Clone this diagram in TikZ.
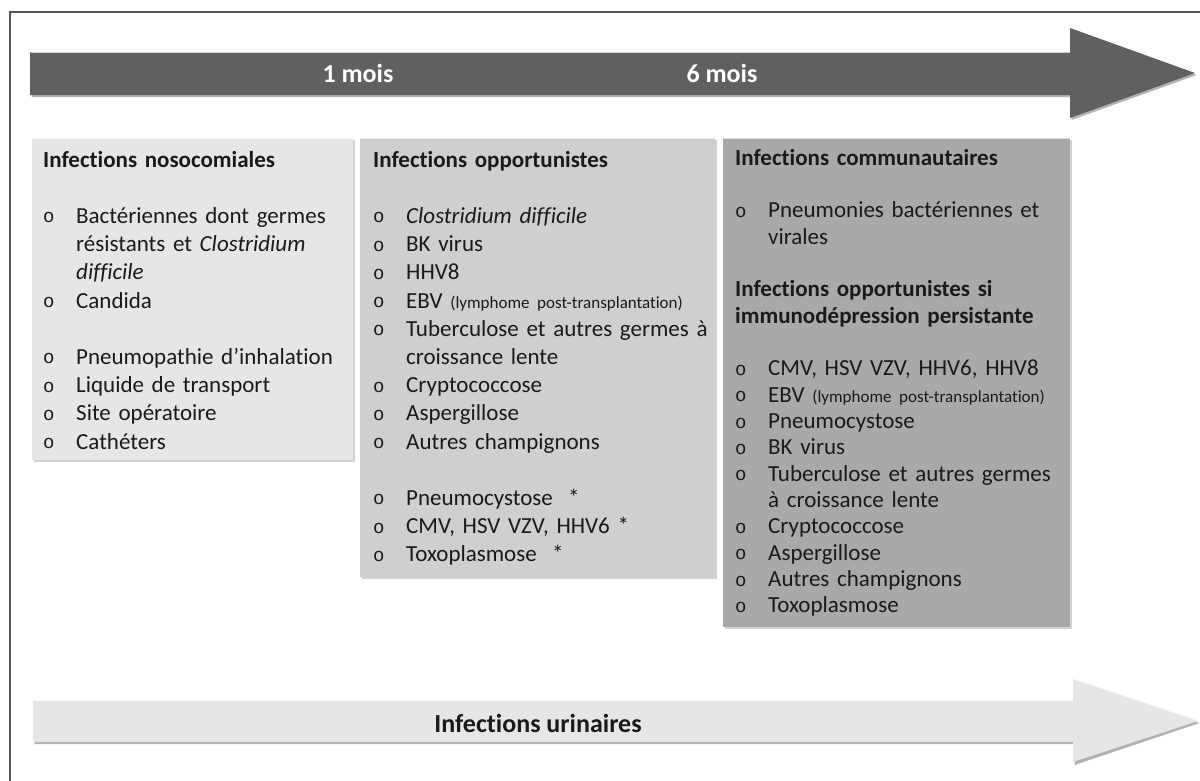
\documentclass[tikz,border=0pt]{standalone}
\usepackage{fontspec}
\setmainfont{Carlito}[RawFeature={-liga;-clig;-calt;-dlig}]
\newfontfamily\bulfont{Liberation Mono}
\usetikzlibrary{shadows}
\definecolor{framec}{HTML}{555555}
\definecolor{arrowdark}{HTML}{606060}
\definecolor{arrowlight}{HTML}{E6E6E6}
\definecolor{boxA}{HTML}{E6E6E6}
\definecolor{boxB}{HTML}{CFCFCF}
\definecolor{boxC}{HTML}{A9A9A9}
\definecolor{txt}{HTML}{1A1A1A}
\newcommand{\bul}{{\bulfont\fontsize{19}{19}\selectfont\raisebox{0.5pt}{o}}}
\newcommand{\itm}[1]{\par\noindent\makebox[33pt][l]{\hspace{0pt}\bul}#1}
\newcommand{\cnt}[1]{\par\noindent\hspace*{33pt}#1}
\newcommand{\hdfirst}[1]{\noindent\textbf{#1}}
\newcommand{\hd}[1]{\par\noindent\textbf{#1}}
\newcommand{\gapline}{\par\noindent\mbox{}}
\newcommand{\sml}[1]{{\fontsize{17}{17}\selectfont #1}}
\tikzset{
  panel/.style={draw=none, anchor=north west, inner sep=0pt,
    drop shadow={shadow xshift=1.5pt, shadow yshift=-2pt, opacity=0.35}},
  listtext/.style={anchor=base west, inner sep=0pt, text width=400pt,
    text=txt, font=\fontsize{23}{28.2}\selectfont},
  listtextC/.style={listtext, font=\fontsize{23}{26.35}\selectfont},
  arrowlabel/.style={inner sep=0pt, font=\bfseries\fontsize{26}{30}\selectfont}
}
\begin{document}
\begin{tikzpicture}[x=1pt,y=-1pt]
\useasboundingbox (0,0) rectangle (1200,780);
\fill[white] (0,0) rectangle (1200,780);
% frame
\draw[framec, line width=2pt] (1205,12) -- (10,12) -- (10,785);
% top arrow
\fill[black, opacity=0.3] (31.5,54) -- (1071.5,54) -- (1071.5,30) -- (1196.5,75) -- (1071.5,120) -- (1071.5,97) -- (31.5,97) -- cycle;
\fill[arrowdark] (30,52) -- (1070,52) -- (1070,28) -- (1195,73) -- (1070,118) -- (1070,95) -- (30,95) -- cycle;
\draw[white!70!arrowdark, line width=1pt] (30.5,52.5) -- (1070,52.5);
\node[arrowlabel, text=white] (m1) at (358,73) {1 mois};
\node[arrowlabel, text=white] (m6) at (722,73) {6 mois};
% boxes
\node[panel, fill=boxA, minimum width=321pt, minimum height=322pt] (nos) at (32,138) {};
\node[panel, fill=boxB, minimum width=355pt, minimum height=439pt] (opp) at (360,138) {};
\node[panel, fill=boxC, minimum width=347pt, minimum height=489pt] (com) at (723,138) {};
\draw[white, opacity=0.6, line width=1pt] (nos.north west) -- (nos.north east);
\draw[white, opacity=0.6, line width=1pt] (opp.north west) -- (opp.north east);
\draw[white, opacity=0.6, line width=1pt] (com.north west) -- (com.north east);
% box texts
\node[listtext] (nosT) at (43,167) {%
\hdfirst{Infections nosocomiales}
\gapline
\itm{Bactériennes dont germes}
\cnt{résistants et \textit{Clostridium}}
\cnt{\textit{difficile}}
\itm{Candida}
\gapline
\itm{Pneumopathie d’inhalation}
\itm{Liquide de transport}
\itm{Site opératoire}
\itm{Cathéters}};
\node[listtext] (oppT) at (373,167) {%
\hdfirst{Infections opportunistes}
\gapline
\itm{\textit{Clostridium difficile}}
\itm{BK virus}
\itm{HHV8}
\itm{EBV \sml{(lymphome post-transplantation)}}
\itm{Tuberculose et autres germes à}
\cnt{croissance lente}
\itm{Cryptococcose}
\itm{Aspergillose}
\itm{Autres champignons}
\gapline
\itm{Pneumocystose \ *}
\itm{CMV, HSV VZV, HHV6 *}
\itm{Toxoplasmose \ *}};
\node[listtextC] (comT) at (735,165) {%
\hdfirst{Infections communautaires}
\gapline
\itm{Pneumonies bactériennes et}
\cnt{virales}
\gapline
\hd{Infections opportunistes si}
\hd{immunodépression persistante}
\gapline
\itm{CMV, HSV VZV, HHV6, HHV8}
\itm{EBV \sml{(lymphome post-transplantation)}}
\itm{Pneumocystose}
\itm{BK virus}
\itm{Tuberculose et autres germes}
\cnt{à croissance lente}
\itm{Cryptococcose}
\itm{Aspergillose}
\itm{Autres champignons}
\itm{Toxoplasmose}};
% bottom arrow
\fill[black, opacity=0.3] (34.5,702) -- (1074.5,702) -- (1074.5,681) -- (1199.5,723) -- (1074.5,765) -- (1074.5,744) -- (34.5,744) -- cycle;
\fill[arrowlight] (33,700) -- (1073,700) -- (1073,679) -- (1198,721) -- (1073,762) -- (1073,742) -- (33,742) -- cycle;
\draw[white, line width=1pt] (33.5,700.5) -- (1073,700.5);
\node[arrowlabel, text=txt] (uri) at (538,723) {Infections urinaires};
\end{tikzpicture}
\end{document}
